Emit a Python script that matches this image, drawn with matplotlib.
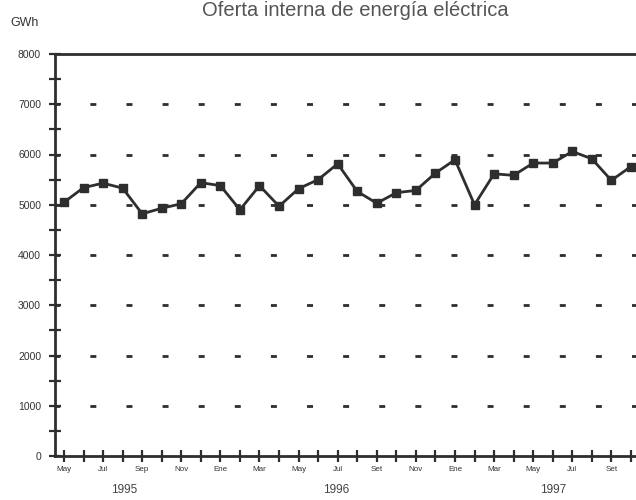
import matplotlib
matplotlib.use('Agg')
import matplotlib.pyplot as plt
import numpy as np

# monthly values, May 1995 .. Oct 1997 (GWh)
oferta = [5050, 5340, 5430, 5330, 4820, 4930, 5020, 5440, 5380, 4900,
          5380, 4970, 5320, 5500, 5815, 5265, 5030, 5240, 5285, 5630,
          5895, 5000, 5615, 5585, 5830, 5830, 6060, 5915, 5485, 5760]
month_labels = ['May', 'Jul', 'Sep', 'Nov', 'Ene', 'Mar', 'May', 'Jul',
                'Set', 'Nov', 'Ene', 'Mar', 'May', 'Jul', 'Set']
years = ['1995', '1996', '1997']
year_pos = [3.1, 13.9, 25.0]
grid_levels = [1000, 2000, 3000, 4000, 5000, 6000, 7000]

plt.rcParams['font.family'] = ['Liberation Sans', 'DejaVu Sans']
plt.rcParams['lines.scale_dashes'] = False

fig = plt.figure(figsize=(6.36, 5.0), dpi=100)
ax = fig.add_axes([55 / 636, 44 / 500, 581 / 636, 402 / 500])

dark = '#2e2e2e'
x = np.arange(len(oferta))

# dashed horizontal guides
ax.hlines(grid_levels, -0.46, 29.26, colors=dark, linewidth=2.0,
          linestyles=[(0.9, (4.3, 21.7))])

ax.plot(x, oferta, color=dark, linewidth=2.0, marker='s', markersize=5.5,
        markerfacecolor=dark, markeredgecolor=dark, clip_on=False, zorder=3)

ax.set_xlim(-0.46, 29.26)
ax.set_ylim(0, 8000)

ax.spines['right'].set_visible(False)
for s in ['left', 'bottom', 'top']:
    ax.spines[s].set_linewidth(2.0)
    ax.spines[s].set_color(dark)

ax.set_yticks(np.arange(0, 8001, 1000))
ax.set_yticks(np.arange(500, 8000, 1000), minor=True)
ax.set_xticks(x[::2], month_labels)
ax.set_xticks(x[1::2], minor=True)
ax.tick_params(axis='both', which='both', direction='inout', length=8,
               width=1.6, color=dark)
ax.tick_params(axis='y', which='major', labelsize=7.5, pad=6, labelcolor='#333')
ax.tick_params(axis='x', which='major', labelsize=5.8, pad=3, labelcolor='#333')

trans = ax.get_xaxis_transform()
for yr, pos in zip(years, year_pos):
    ax.text(pos, -0.085, yr, transform=trans, ha='center', va='center',
            fontsize=8.5, color='#444')

fig.text(10 / 636, 1 - 23 / 500, 'GWh', ha='left', va='center',
         fontsize=9, color='#333')
fig.text(355 / 636, 1 - 16 / 500, 'Oferta interna de energía eléctrica',
         ha='center', va='baseline', fontsize=14.5, color='#555')

fig.savefig('out.png', dpi=100)
